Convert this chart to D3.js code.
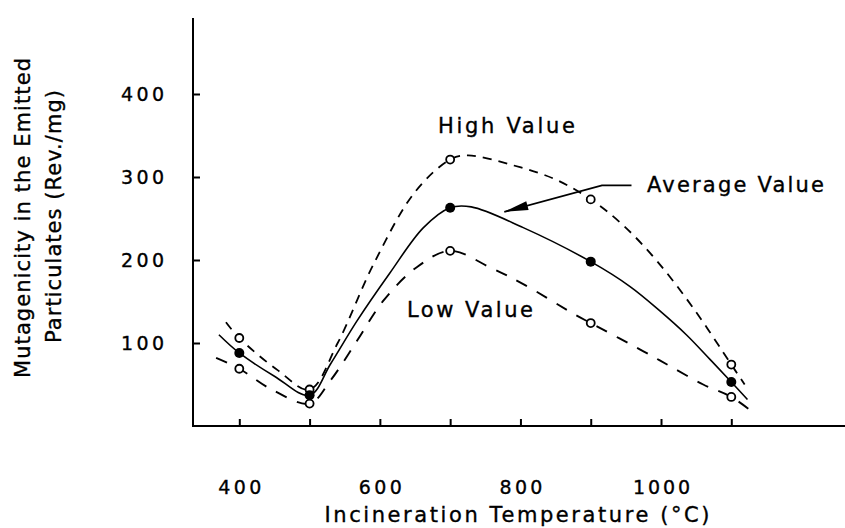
<!DOCTYPE html>
<html>
<head>
<meta charset="utf-8">
<script src="https://cdn.jsdelivr.net/npm/d3@7"></script>
<style>
  html, body { margin: 0; padding: 0; background: #fff; }
  svg { display: block; }
  text { font-family: "DejaVu Sans", sans-serif; fill: #000; stroke: #000; stroke-width: 0.35px; }
</style>
</head>
<body>
<svg id="chart" width="845" height="528"></svg>
<script>
// ---- data ----
const temps = [400, 500, 700, 900, 1100];
const highValues = [106, 44, 321, 273, 74];
const averageValues = [88, 37, 263, 198, 53];
const lowValues = [69, 27, 211, 124, 35];

// traced fitted curves (temperature, value)
const highCurveT = [381, 400, 455, 500, 540, 591, 650, 700, 725, 790, 850, 900, 946, 994, 1046, 1100, 1119];
const highCurveV = [125, 106, 67, 44, 100, 195, 282, 321, 326, 314, 297, 273, 242, 199, 142, 74, 50];
const avgCurveT = [371, 400, 450, 500, 530, 567, 614, 662, 700, 730, 804, 900, 956, 998, 1036, 1070, 1100, 1123];
const avgCurveV = [110, 88, 60, 37, 75, 126, 184, 239, 263, 264, 239, 198, 168, 139, 110, 80, 53, 32];
const lowCurveT = [367, 400, 446, 500, 529, 567, 605, 652, 700, 757, 804, 878, 900, 975, 1013, 1060, 1100, 1127];
const lowCurveV = [82, 69, 44, 27, 54, 102, 151, 191, 211, 191, 171, 134, 124, 90, 72, 50, 35, 19];

const xTicks = [400, 500, 600, 700, 800, 900, 1000, 1100];
const xTickLabels = [400, 600, 800, 1000];
const yTicks = [100, 200, 300, 400];

const xTitle = "Incineration Temperature (°C)";
const yTitle1 = "Mutagenicity in the Emitted";
const yTitle2 = "Particulates (Rev./mg)";
const labelHigh = "High Value";
const labelLow = "Low Value";
const labelAvg = "Average Value";

// ---- layout ----
const svg = d3.select("#chart");
const x = d3.scaleLinear().domain([400, 1100]).range([239.3, 731.3]);
const y = d3.scaleLinear().domain([0, 400]).range([426, 94]);
const axisLeftX = 193, axisTopY = 18, axisRightX = 845;

// axis lines
svg.append("line").attr("x1", axisLeftX).attr("x2", axisLeftX)
  .attr("y1", axisTopY).attr("y2", y(0) + 1)
  .attr("stroke", "#000").attr("stroke-width", 2);
svg.append("line").attr("x1", axisLeftX - 1).attr("x2", axisRightX)
  .attr("y1", y(0)).attr("y2", y(0))
  .attr("stroke", "#000").attr("stroke-width", 2);

// x ticks (pointing up into plot)
const gx = svg.append("g").attr("transform", `translate(0,${y(0)})`)
  .call(d3.axisBottom(x).tickValues(xTicks).tickSize(-7).tickFormat(""));
gx.select(".domain").remove();
gx.selectAll(".tick line").attr("stroke", "#000").attr("stroke-width", 2);

// x tick labels
const gxl = svg.append("g").attr("transform", `translate(0,${y(0)})`)
  .call(d3.axisBottom(x).tickValues(xTickLabels).tickSize(0).tickPadding(68)
    .tickFormat(d3.format("d")));
gxl.select(".domain").remove();
gxl.selectAll(".tick text")
  .attr("font-size", 19).attr("font-family", "DejaVu Sans")
  .attr("dy", 0).attr("fill", "#000")
  .attr("textLength", d => String(d).length === 4 ? 57 : 43)
  .attr("lengthAdjust", "spacing");

// y ticks (pointing right into plot)
const gy = svg.append("g").attr("transform", `translate(${axisLeftX},0)`)
  .call(d3.axisLeft(y).tickValues(yTicks).tickSize(-7).tickPadding(29)
    .tickFormat(d3.format("d")));
gy.select(".domain").remove();
gy.selectAll(".tick line").attr("stroke", "#000").attr("stroke-width", 2);
gy.selectAll(".tick text")
  .attr("font-size", 19).attr("font-family", "DejaVu Sans").attr("fill", "#000")
  .attr("textLength", 43).attr("lengthAdjust", "spacing");

// ---- curves ----
const line = d3.line().x(d => x(d[0])).y(d => y(d[1]))
  .curve(d3.curveCatmullRom.alpha(0.5));
const zip = (a, b) => a.map((t, i) => [t, b[i]]);

svg.append("path").datum(zip(highCurveT, highCurveV))
  .attr("d", line).attr("fill", "none").attr("stroke", "#000")
  .attr("stroke-width", 1.8).attr("stroke-dasharray", "9,7");
svg.append("path").datum(zip(lowCurveT, lowCurveV))
  .attr("d", line).attr("fill", "none").attr("stroke", "#000")
  .attr("stroke-width", 1.9).attr("stroke-dasharray", "12,11");
svg.append("path").datum(zip(avgCurveT, avgCurveV))
  .attr("d", line).attr("fill", "none").attr("stroke", "#000")
  .attr("stroke-width", 1.6);

// ---- markers ----
function openMarkers(vals) {
  svg.append("g").selectAll("circle").data(zip(temps, vals)).join("circle")
    .attr("cx", d => x(d[0])).attr("cy", d => y(d[1])).attr("r", 4)
    .attr("fill", "#fff").attr("stroke", "#000").attr("stroke-width", 1.8);
}
openMarkers(highValues);
openMarkers(lowValues);
svg.append("g").selectAll("circle").data(zip(temps, averageValues)).join("circle")
  .attr("cx", d => x(d[0])).attr("cy", d => y(d[1])).attr("r", 5)
  .attr("fill", "#000");

// ---- annotations ----
svg.append("text").attr("x", x(682.6)).attr("y", y(353)).attr("font-size", 21)
  .attr("textLength", 137).attr("lengthAdjust", "spacing").text(labelHigh);
svg.append("text").attr("x", x(638.5)).attr("y", y(131)).attr("font-size", 21)
  .attr("textLength", 126).attr("lengthAdjust", "spacing").text(labelLow);
svg.append("text").attr("x", x(980)).attr("y", y(282)).attr("font-size", 21)
  .attr("textLength", 177).attr("lengthAdjust", "spacing").text(labelAvg);

// arrow from label to average curve
const arrowPts = [[958, 290], [916, 290], [777, 258]];
const ap = arrowPts.map(p => [x(p[0]), y(p[1])]);
svg.append("path").attr("d", d3.line()(ap)).attr("fill", "none")
  .attr("stroke", "#000").attr("stroke-width", 1.8);
{
  const tip = ap[2], from = ap[1];
  const ang = Math.atan2(tip[1] - from[1], tip[0] - from[0]);
  const L = 24, w = 4.5;
  const bx = tip[0] - L * Math.cos(ang), by = tip[1] - L * Math.sin(ang);
  const px = -Math.sin(ang) * w, py = Math.cos(ang) * w;
  svg.append("path")
    .attr("d", `M${tip[0]},${tip[1]}L${bx + px},${by + py}L${bx - px},${by - py}Z`)
    .attr("fill", "#000");
}

// ---- axis titles ----
svg.append("text").attr("x", 517).attr("y", 522).attr("text-anchor", "middle")
  .attr("font-size", 21).attr("textLength", 385).attr("lengthAdjust", "spacing")
  .text(xTitle);
svg.append("text").attr("transform", "translate(30,218) rotate(-90)")
  .attr("text-anchor", "middle").attr("font-size", 21)
  .attr("textLength", 320).attr("lengthAdjust", "spacing").text(yTitle1);
svg.append("text").attr("transform", "translate(61,216.5) rotate(-90)")
  .attr("text-anchor", "middle").attr("font-size", 21)
  .attr("textLength", 253).attr("lengthAdjust", "spacing").text(yTitle2);
</script>
</body>
</html>
